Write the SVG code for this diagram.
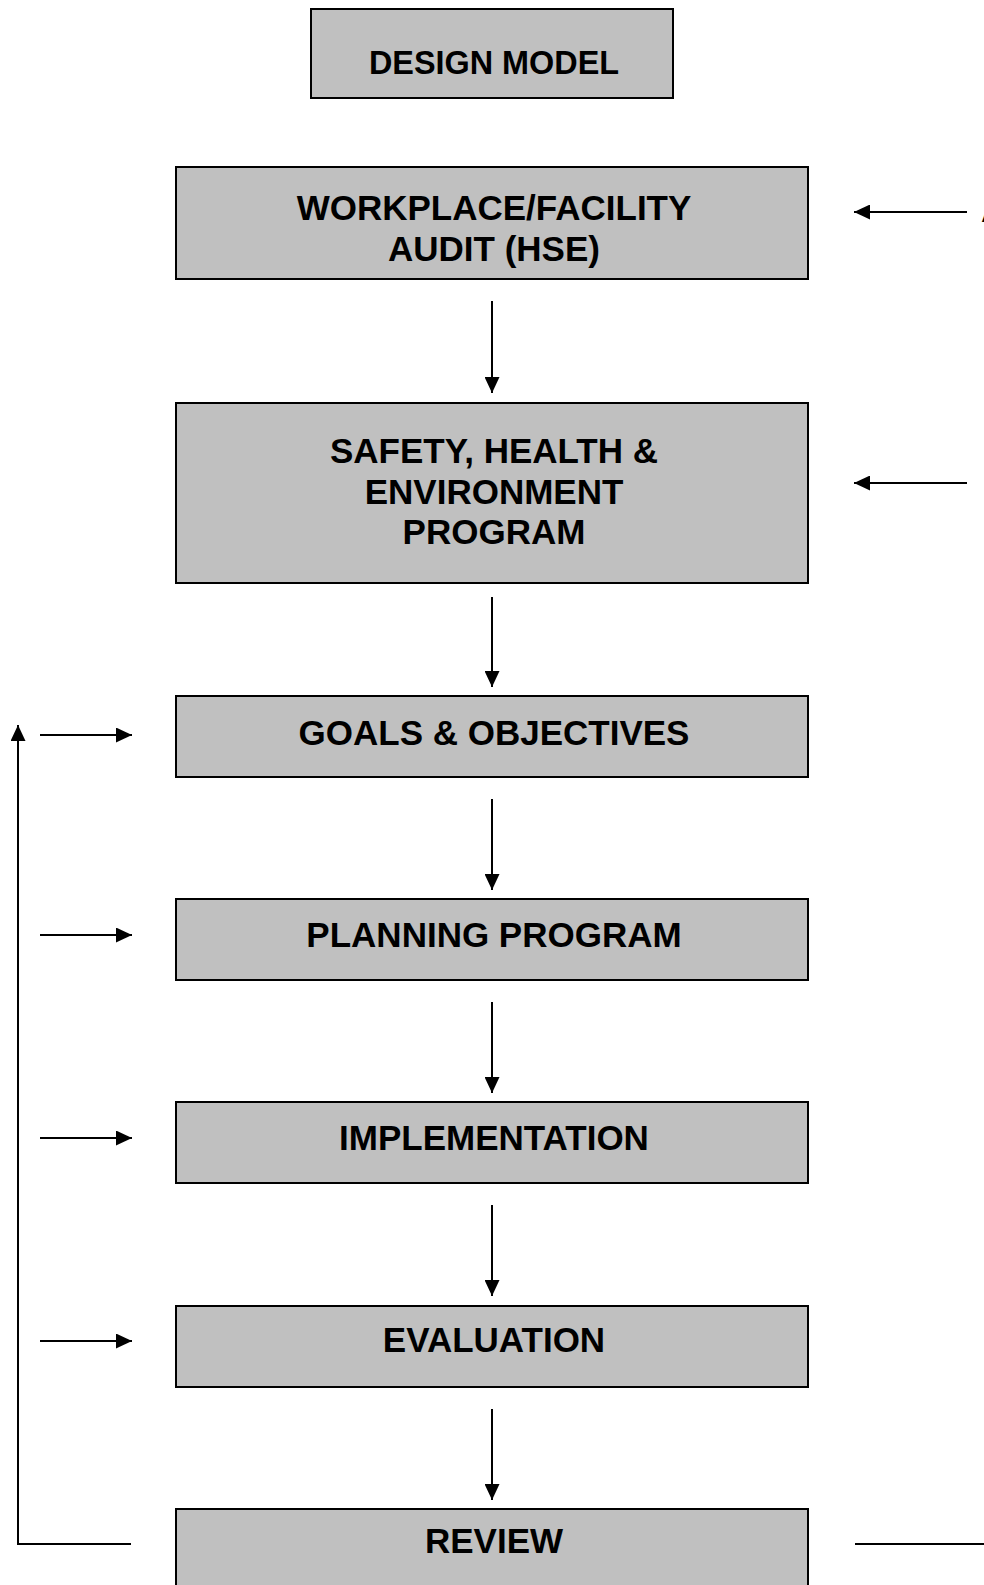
<svg xmlns="http://www.w3.org/2000/svg" width="984" height="1585" viewBox="0 0 984 1585">
<style>
.box{fill:#C0C0C0;stroke:#000;stroke-width:2}
.t{font-family:"Liberation Sans",Arial,sans-serif;font-weight:bold;font-size:35px;fill:#000;text-anchor:middle}
.c{stroke:#000;stroke-width:2;fill:none}
</style>
<defs>
<marker id="ah" markerUnits="userSpaceOnUse" markerWidth="17" markerHeight="15" refX="16" refY="7.5" orient="auto">
<path d="M0,0 L16,7.5 L0,15 Z" fill="#000"/>
</marker>
</defs>
<g id="design-model">
<rect class="box" x="311" y="9" width="362" height="89"/>
<text class="t" x="494" y="74" style="font-size:32.4px">DESIGN MODEL</text>
</g>
<g id="audit">
<rect class="box" x="176" y="167" width="632" height="112"/>
<text class="t" x="494" y="220">WORKPLACE/FACILITY</text>
<text class="t" x="494" y="261">AUDIT (HSE)</text>
</g>
<g id="she-program">
<rect class="box" x="176" y="403" width="632" height="180"/>
<text class="t" x="494" y="463">SAFETY, HEALTH &amp;</text>
<text class="t" x="494" y="504">ENVIRONMENT</text>
<text class="t" x="494" y="544">PROGRAM</text>
</g>
<g id="goals">
<rect class="box" x="176" y="696" width="632" height="81"/>
<text class="t" x="494" y="745">GOALS &amp; OBJECTIVES</text>
</g>
<g id="planning">
<rect class="box" x="176" y="899" width="632" height="81"/>
<text class="t" x="494" y="947">PLANNING PROGRAM</text>
</g>
<g id="implementation">
<rect class="box" x="176" y="1102" width="632" height="81"/>
<text class="t" x="494" y="1150">IMPLEMENTATION</text>
</g>
<g id="evaluation">
<rect class="box" x="176" y="1306" width="632" height="81"/>
<text class="t" x="494" y="1352">EVALUATION</text>
</g>
<g id="review">
<rect class="box" x="176" y="1509" width="632" height="90"/>
<text class="t" x="494" y="1553">REVIEW</text>
</g>
<g id="edge-label">
<text class="t" x="981" y="222" style="text-anchor:start">A</text>
</g>
<g id="connectors">
<line class="c" x1="967" y1="212" x2="854" y2="212" marker-end="url(#ah)"/>
<line class="c" x1="967" y1="483" x2="854" y2="483" marker-end="url(#ah)"/>
<line class="c" x1="492" y1="301" x2="492" y2="393" marker-end="url(#ah)"/>
<line class="c" x1="492" y1="597" x2="492" y2="687" marker-end="url(#ah)"/>
<line class="c" x1="492" y1="799" x2="492" y2="890" marker-end="url(#ah)"/>
<line class="c" x1="492" y1="1002" x2="492" y2="1093" marker-end="url(#ah)"/>
<line class="c" x1="492" y1="1205" x2="492" y2="1296" marker-end="url(#ah)"/>
<line class="c" x1="492" y1="1409" x2="492" y2="1500" marker-end="url(#ah)"/>
<line class="c" x1="40" y1="735" x2="132" y2="735" marker-end="url(#ah)"/>
<line class="c" x1="40" y1="935" x2="132" y2="935" marker-end="url(#ah)"/>
<line class="c" x1="40" y1="1138" x2="132" y2="1138" marker-end="url(#ah)"/>
<line class="c" x1="40" y1="1341" x2="132" y2="1341" marker-end="url(#ah)"/>
<polyline class="c" points="131,1544 18,1544 18,725" marker-end="url(#ah)"/>
<line class="c" x1="855" y1="1544" x2="984" y2="1544"/>
</g>
</svg>
